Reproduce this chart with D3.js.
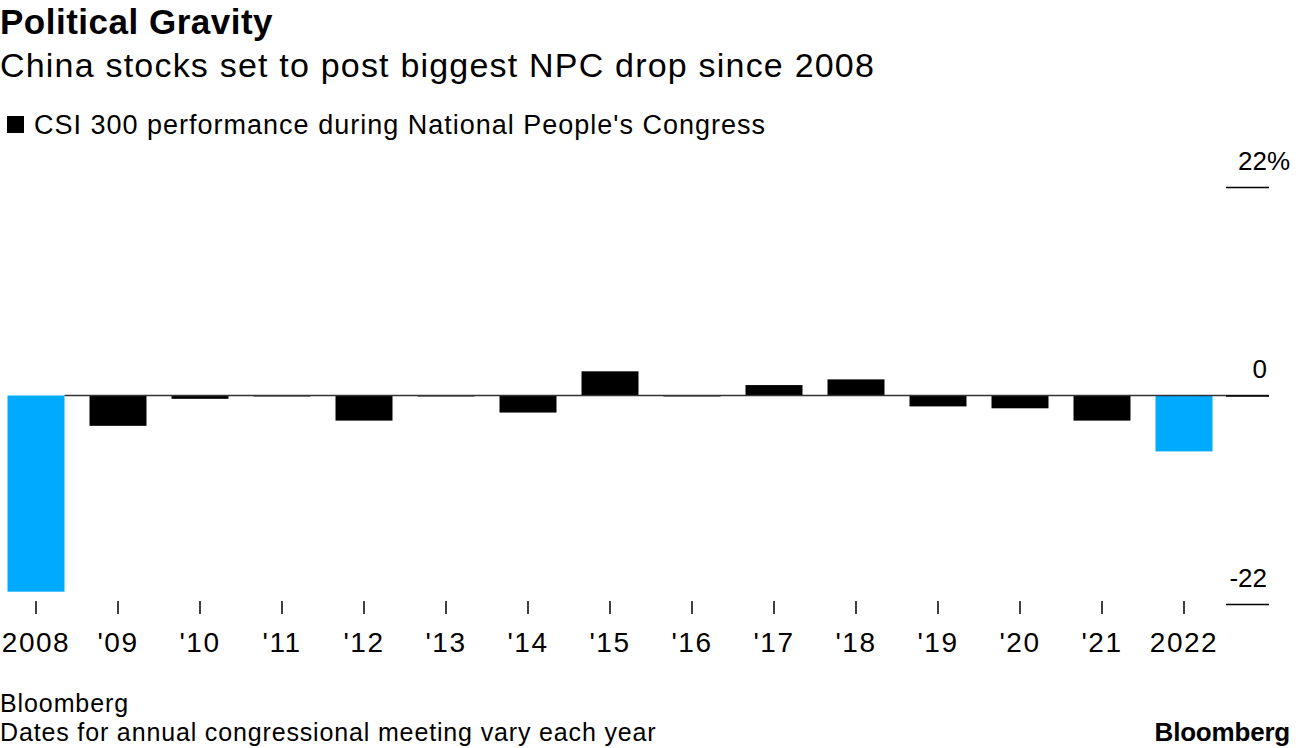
<!DOCTYPE html>
<html>
<head>
<meta charset="utf-8">
<script src="https://cdn.jsdelivr.net/npm/d3@7"></script>
<style>
  body { margin: 0; background: #fff; }
  svg { display: block; font-family: "Liberation Sans", Arial, sans-serif; }
</style>
</head>
<body>
<svg id="chart" width="1296" height="748"></svg>
<script>
  const YEARS = ['2008', "'09", "'10", "'11", "'12", "'13", "'14", "'15", "'16", "'17", "'18", "'19", "'20", "'21", '2022'];
  const VALUES = [-20.7, -3.2, -0.35, -0.1, -2.65, -0.1, -1.8, 2.55, -0.1, 1.1, 1.7, -1.15, -1.35, -2.65, -5.9];
  const HIGHLIGHT = ['2008', '2022'];
  const Y_TICKS = [-22, 0, 22];

  const BLUE = '#00abff';
  const FONT = '"Liberation Sans", Arial, sans-serif';

  const svg = d3.select('#chart');

  const x = d3.scaleBand().domain(YEARS).range([-5, 1225]).paddingInner(0.305).paddingOuter(0.1525);
  const y = d3.scaleLinear().domain([-22, 22]).range([604, 187]);

  // Header
  svg.append('text')
    .attr('x', 0).attr('y', 34)
    .style('font-size', '35px').style('font-weight', 'bold')
    .style('letter-spacing', '0.5px')
    .text('Political Gravity');

  svg.append('text')
    .attr('x', 0).attr('y', 77)
    .style('font-size', '34px')
    .style('letter-spacing', '1.2px')
    .text('China stocks set to post biggest NPC drop since 2008');

  // Legend
  svg.append('rect')
    .attr('x', 7).attr('y', 116).attr('width', 17).attr('height', 17)
    .attr('fill', '#000');
  svg.append('text')
    .attr('x', 34).attr('y', 134)
    .style('font-size', '27px')
    .style('letter-spacing', '1px')
    .text("CSI 300 performance during National People's Congress");

  // Bars
  svg.append('g')
    .selectAll('rect')
    .data(YEARS.map((d, i) => ({ year: d, value: VALUES[i] })))
    .join('rect')
    .attr('x', d => x(d.year))
    .attr('width', x.bandwidth())
    .attr('y', d => y(Math.max(0, d.value)))
    .attr('height', d => Math.abs(y(d.value) - y(0)))
    .attr('fill', d => HIGHLIGHT.includes(d.year) ? BLUE : '#000');

  // Zero line
  svg.append('line')
    .attr('x1', x(YEARS[0]) + x.bandwidth()).attr('x2', 1269)
    .attr('y1', y(0)).attr('y2', y(0))
    .attr('stroke', '#333').attr('stroke-width', 1.3);

  // Right axis (the % sign hangs past the tick end)
  const yAxis = svg.append('g')
    .attr('transform', 'translate(1269,0)')
    .call(d3.axisLeft(y).tickValues(Y_TICKS).tickSize(43).tickFormat(d => d));
  yAxis.select('.domain').remove();
  yAxis.selectAll('.tick line').attr('stroke', '#000').attr('stroke-width', 1.5);
  yAxis.selectAll('.tick text')
    .attr('x', -2).attr('dy', null).attr('y', -18)
    .attr('text-anchor', 'end')
    .attr('fill', '#000')
    .style('font-size', '26px')
    .style('font-family', FONT);
  yAxis.selectAll('.tick').filter(d => d === 22)
    .append('text')
    .attr('x', -2).attr('y', -18)
    .attr('text-anchor', 'start')
    .attr('fill', '#000')
    .style('font-size', '26px')
    .style('font-family', FONT)
    .text('%');

  // Bottom axis
  const xAxis = svg.append('g')
    .attr('transform', 'translate(0,601)')
    .call(d3.axisBottom(x).tickSize(13));
  xAxis.select('.domain').remove();
  xAxis.selectAll('.tick line').attr('stroke', '#000').attr('stroke-width', 1.5);
  xAxis.selectAll('.tick text')
    .attr('y', 51).attr('dy', null)
    .attr('fill', '#000')
    .style('font-size', '28px')
    .style('letter-spacing', '1.5px')
    .style('font-family', FONT);

  // Footer
  svg.append('text')
    .attr('x', 0).attr('y', 712)
    .style('font-size', '25px')
    .style('letter-spacing', '0.9px')
    .text('Bloomberg');
  svg.append('text')
    .attr('x', 0).attr('y', 741)
    .style('font-size', '25px')
    .style('letter-spacing', '0.85px')
    .text('Dates for annual congressional meeting vary each year');
  svg.append('text')
    .attr('x', 1290).attr('y', 741)
    .attr('text-anchor', 'end')
    .style('font-size', '26px').style('font-weight', 'bold')
    .style('letter-spacing', '-0.2px')
    .text('Bloomberg');
</script>
</body>
</html>
